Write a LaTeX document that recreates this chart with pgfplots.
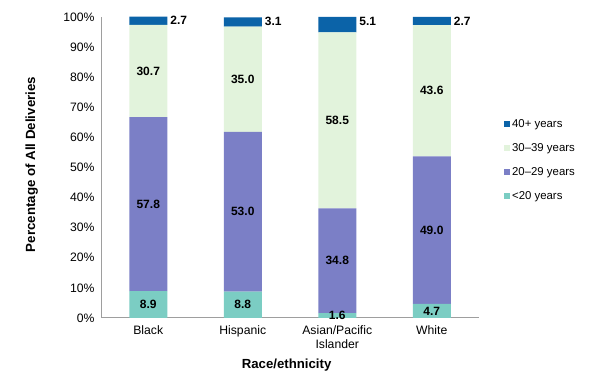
\documentclass[border=0pt]{standalone}
\usepackage{fontspec}
\setmainfont{Liberation Sans}
\usepackage{pgfplots}
\pgfplotsset{compat=1.18}
\definecolor{c40}{HTML}{0B63A8}
\definecolor{c30}{HTML}{E2F3DC}
\definecolor{c20}{HTML}{7B7FC6}
\definecolor{c10}{HTML}{7BCDC3}
\pgfplotsset{myleg/.style={legend image code/.code={\fill[##1] (0pt,-3pt) rectangle (6pt,3pt);}}}
\begin{document}
\begin{tikzpicture}
\path[use as bounding box] (0,0) rectangle (594pt,377pt);
\begin{axis}[
  at={(101pt,59pt)}, anchor=south west,
  scale only axis, width=378pt, height=301pt,
  ybar stacked, bar width=38pt,
  xmin=-0.5, xmax=3.5, ymin=0, ymax=100,
  clip=false,
  xtick={0,1,2,3},
  xticklabels={Black,Hispanic,{Asian/Pacific\\Islander},White},
  xticklabel style={align=center, font=\fontsize{12.2}{14.5}\selectfont, yshift=-4pt},
  ytick={0,10,...,100},
  yticklabels={0\%,10\%,20\%,30\%,40\%,50\%,60\%,70\%,80\%,90\%,100\%},
  yticklabel style={font=\fontsize{12.2}{14}\selectfont, xshift=-3pt},
  axis x line*=bottom, axis y line*=left,
  axis line style={draw=black!38, line width=1pt, -},
  major tick length=0pt,
  ylabel={Percentage of All Deliveries},
  ylabel style={at={(axis description cs:-0.183,0.51)}, anchor=center, font=\bfseries\fontsize{13.3}{15}\selectfont},
  xlabel={Race/ethnicity},
  xlabel style={at={(axis description cs:0.491,-0.156)}, anchor=center, font=\bfseries\fontsize{13.2}{15}\selectfont},
  point meta=explicit symbolic,
  nodes near coords,
  visualization depends on=rawy \as \rawy,
  every node near coord/.append style={font=\bfseries\fontsize{12}{14}\selectfont, text=black, inner sep=0pt, anchor=center},
  reverse legend,
  legend style={draw=none, fill=none, at={(1.058,0.674)}, anchor=north west, font=\fontsize{11.4}{13}\selectfont, row sep=10.5pt, cells={anchor=west}},
]
\addplot+[fill=c10, draw=none, myleg] coordinates {(0,8.9)[8.9] (1,8.8)[8.8] (2,1.6)[1.6] (3,4.7)[4.7]};
\addlegendentry{<20 years}
\addplot+[fill=c20, draw=none, myleg] coordinates {(0,57.8)[57.8] (1,53.0)[53.0] (2,34.8)[34.8] (3,49.0)[49.0]};
\addlegendentry{20–29 years}
\addplot+[fill=c30, draw=none, myleg] coordinates {(0,30.7)[30.7] (1,35.0)[35.0] (2,58.5)[58.5] (3,43.6)[43.6]};
\addlegendentry{30–39 years}
\addplot+[fill=c40, draw=none, myleg, every node near coord/.append style={anchor=west, xshift=22pt, shift={(axis direction cs:0,\rawy/2)}, yshift=-4pt}] coordinates {(0,2.7)[2.7] (1,3.1)[3.1] (2,5.1)[5.1] (3,2.7)[2.7]};
\addlegendentry{40+ years}
\end{axis}
\end{tikzpicture}
\end{document}
